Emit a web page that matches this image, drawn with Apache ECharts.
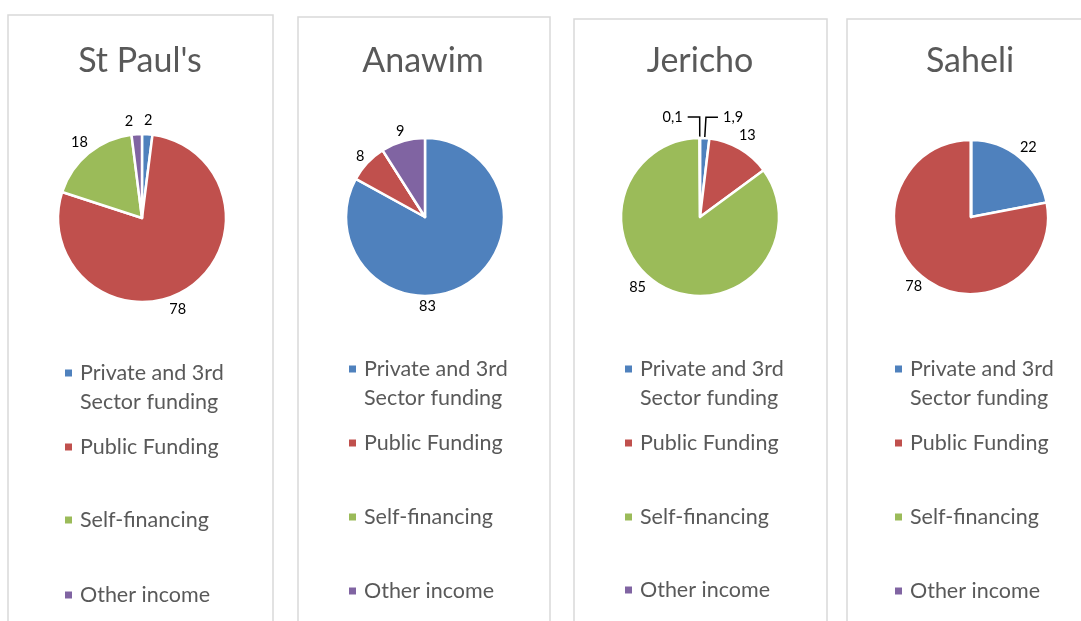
<!DOCTYPE html>
<html>
<head>
<meta charset="utf-8">
<script src="https://cdn.jsdelivr.net/npm/echarts@6/dist/echarts.min.js"></script>
<style>
html, body { margin: 0; padding: 0; background: #fff; }
#main { width: 1081px; height: 621px; }
</style>
</head>
<body>
<div id="main"></div>
<script>
// funding split (%) per site, order: private, public, self, other
const categories = ['Private and 3rd Sector funding', 'Public Funding', 'Self-financing', 'Other income']
const sites = ["St Paul's", 'Anawim', 'Jericho', 'Saheli']
const stPauls = [2, 78, 18, 2]
const anawim = [83, 8, 0, 9]
const jericho = [1.9, 13, 85, 0.1]
const saheli = [22, 78, 0, 0]
const siteValues = [stPauls, anawim, jericho, saheli]

const colors = ['#4F81BD', '#C0504D', '#9BBB59', '#8064A2']
const font = 'Lato, "Open Sans", sans-serif'

// where every panel sits
const panels = [
    { x: 8,   w: 265, top: 15, titleX: 140, cx: 142, cy: 218, r: 84, legX: 63,  rows: [373, 447, 520, 595] },
    { x: 298, w: 252, top: 17, titleX: 423, cx: 425, cy: 217, r: 79, legX: 347, rows: [369, 443, 517, 591] },
    { x: 574, w: 253, top: 19, titleX: 700, cx: 700, cy: 217, r: 79, legX: 623, rows: [369, 443, 517, 590] },
    { x: 847, w: 260, top: 19, titleX: 970, cx: 971, cy: 217, r: 77, legX: 893, rows: [369, 443, 517, 591] }
]

// excel "best fit" pushes labels of some slices away from the mid angle (degrees)
const labelNudge = { '0-1': 11, '0-3': -4, '1-0': 29, '2-2': 15 }
const labelDist = [14, 10, 15, 13]
// slices labelled with a leader line
const leader = { '2-0': true, '2-3': true }

const fmt = v => String(v).replace('.', ',')

const series = []
const titles = []
const legends = []
const graphics = []

panels.forEach((p, si) => {
    const vals = siteValues[si]
    const total = vals.reduce((a, b) => a + b, 0)

    const data = vals.map((v, i) => {
        const item = { name: categories[i], value: v, itemStyle: { color: colors[i] } }
        if (v === 0) item.label = { show: false }
        if (leader[si + '-' + i]) {
            item.labelLine = { show: true, length: 21, length2: 12, lineStyle: { color: '#000', width: 1.5 } }
        }
        return item
    })

    series.push({
        name: sites[si],
        type: 'pie',
        center: [p.cx, p.cy],
        radius: [0, p.r],
        startAngle: 90,
        clockwise: true,
        avoidLabelOverlap: false,
        emphasis: { disabled: true },
        itemStyle: { borderColor: '#fff', borderWidth: 2.5 },
        label: {
            show: true,
            position: 'outside',
            formatter: prm => fmt(prm.value),
            color: '#000',
            fontFamily: font,
            fontSize: 14.5
        },
        labelLine: { show: false, length: 8, length2: 0 },
        labelLayout: prm => {
            const key = si + '-' + prm.dataIndex
            if (leader[key]) return {}
            let before = 0
            for (let k = 0; k < prm.dataIndex; k++) before += vals[k]
            const mid = (before + vals[prm.dataIndex] / 2) / total * 360 + (labelNudge[key] || 0)
            const a = mid * Math.PI / 180
            const d = p.r + labelDist[si]
            return {
                x: p.cx + d * Math.sin(a),
                y: p.cy - d * Math.cos(a),
                align: 'center',
                verticalAlign: 'middle'
            }
        },
        data: data
    })

    titles.push({
        text: sites[si],
        left: p.titleX,
        top: 61,
        textAlign: 'center',
        textVerticalAlign: 'middle',
        padding: 0,
        textStyle: { fontFamily: font, fontSize: 34, fontWeight: 'normal', color: '#595959' }
    })

    // one legend per item so each row can sit where the original has it
    categories.forEach((c, i) => {
        const twoLines = i === 0
        legends.push({
            data: [c],
            orient: 'vertical',
            left: p.legX,
            // the wrapped item gets an empty first line so the marker sits on its first text line
            top: twoLines ? p.rows[i] - 43.5 : p.rows[i] - 14.5,
            padding: 0,
            icon: 'rect',
            itemWidth: 9,
            itemHeight: 9,
            selectedMode: false,
            formatter: n => n === categories[0] ? ' \nPrivate and 3rd\nSector funding' : n,
            textStyle: {
                fontFamily: font,
                fontSize: 21.5,
                color: '#595959',
                lineHeight: 29,
                padding: [0, 0, 0, 2]
            }
        })
    })

    graphics.push({
        type: 'rect',
        shape: { x: p.x, y: p.top, width: p.w, height: 700 },
        style: { fill: 'none', stroke: '#d9d9d9', lineWidth: 1.5 },
        silent: true
    })
})

const myChart = echarts.init(document.getElementById('main'))
myChart.setOption({
    backgroundColor: '#fff',
    animation: false,
    color: colors,
    title: titles,
    legend: legends,
    graphic: graphics,
    series: series
})
</script>
</body>
</html>
